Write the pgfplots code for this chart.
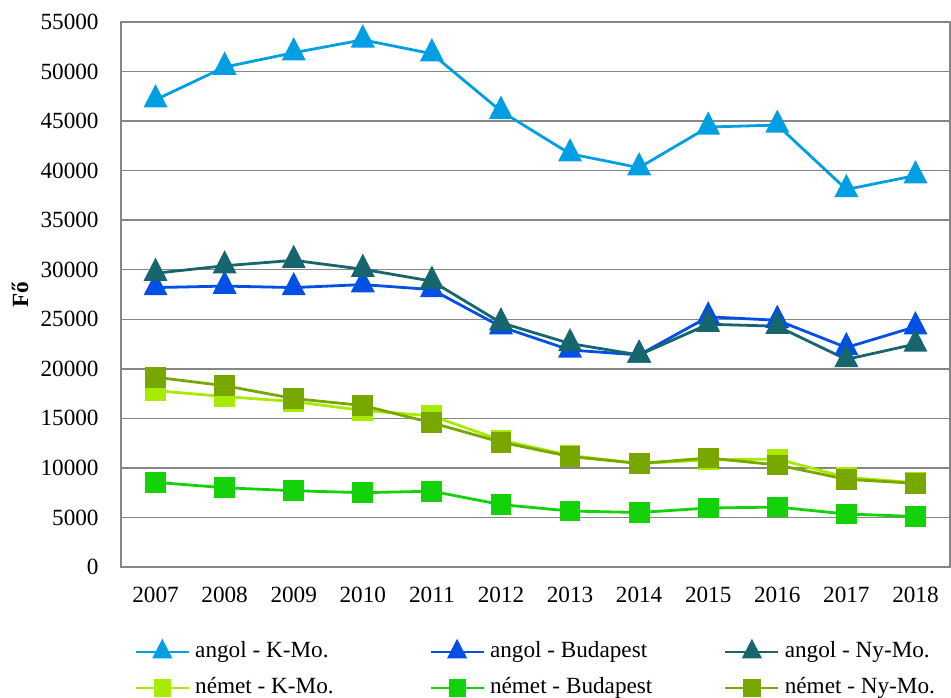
\documentclass[border=0pt]{standalone}
\usepackage{fontspec}
\setmainfont{Liberation Serif}
\usepackage{pgfplots}
\pgfplotsset{compat=1.18}
\usetikzlibrary{calc}
\definecolor{c1}{RGB}{0,158,227}
\definecolor{c2}{RGB}{0,80,230}
\definecolor{c3}{RGB}{23,102,110}
\definecolor{c4}{RGB}{166,235,0}
\definecolor{c5}{RGB}{20,210,10}
\definecolor{c6}{RGB}{120,168,0}
\definecolor{gridc}{RGB}{134,134,134}
\newcommand{\legbox}[1]{\makebox[117pt][l]{#1}}
\begin{document}
\begin{tikzpicture}
\begin{axis}[name=ax, scale only axis, width=414.5pt, height=272.5pt,
  xmin=-0.5, xmax=11.5, ymin=0, ymax=55000,
  xtick={0,1,2,3,4,5,6,7,8,9,10,11},
  xticklabels={2007,2008,2009,2010,2011,2012,2013,2014,2015,2016,2017,2018},
  ytick={0,5000,...,55000},
  ymajorgrids, major grid style={gridc, line width=0.7pt},
  axis line style={gridc, line width=0.8pt},
  major tick length=0pt,
  tick label style={font=\fontsize{11.6}{14}\selectfont},
  /pgf/number format/assume math mode=true,
  /pgf/number format/1000 sep={},
  scaled y ticks=false,
  yticklabel style={inner sep=0pt, xshift=-11pt},
  xticklabel style={inner sep=0pt, anchor=north, yshift=-10pt},
  ylabel={Fő},
  ylabel style={at={(axis description cs:0,0.5)}, anchor=center, yshift=50.5pt, font=\bfseries\fontsize{11.6}{14}\selectfont},
  legend columns=3,
  legend style={draw=none, fill=none, at={(axis description cs:0,0)}, anchor=north west,
    xshift=6.5pt, yshift=-36.5pt, inner sep=0pt, row sep=6.5pt, cells={anchor=west},
    nodes={inner sep=0pt, text height=8.5pt, text depth=3pt, font=\fontsize{11.6}{14}\selectfont},
    /tikz/every odd column/.append style={column sep=2.5pt}},
  legend image code/.code={\draw[mark repeat=2, mark phase=2, #1, every mark/.append style={scale=0.8}] plot coordinates {(0pt,0pt) (13.25pt,0pt) (26.5pt,0pt)};},
]
\addplot[c1, line width=1.4pt, mark=triangle*, mark size=5.6pt, mark options={draw=none, fill=c1, yscale=1.12}] coordinates {
(0,47150) (1,50450) (2,51900) (3,53200) (4,51800) (5,46000) (6,41700) (7,40300) (8,44400) (9,44600) (10,38100) (11,39500)};
\addlegendentry{\legbox{angol - K-Mo.}}
\addplot[c2, line width=1.4pt, mark=triangle*, mark size=5.6pt, mark options={draw=none, fill=c2, yscale=1.12}] coordinates {
(0,28200) (1,28350) (2,28200) (3,28500) (4,28000) (5,24250) (6,21900) (7,21400) (8,25250) (9,24900) (10,22150) (11,24250)};
\addlegendentry{\legbox{angol - Budapest}}
\addplot[c3, line width=1.4pt, mark=triangle*, mark size=5.6pt, mark options={draw=none, fill=c3, yscale=1.12}] coordinates {
(0,29650) (1,30400) (2,30950) (3,30050) (4,28850) (5,24650) (6,22550) (7,21400) (8,24500) (9,24300) (10,20950) (11,22500)};
\addlegendentry{\legbox{angol - Ny-Mo.}}
\addplot[c4, line width=1.4pt, mark=square*, mark size=4.5pt, mark options={draw=none, fill=c4}] coordinates {
(0,17800) (1,17200) (2,16700) (3,15800) (4,15250) (5,12800) (6,11250) (7,10450) (8,10800) (9,10900) (10,9050) (11,8500)};
\addlegendentry{\legbox{német - K-Mo.}}
\addplot[c5, line width=1.4pt, mark=square*, mark size=4.5pt, mark options={draw=none, fill=c5}] coordinates {
(0,8550) (1,8000) (2,7700) (3,7500) (4,7650) (5,6300) (6,5650) (7,5500) (8,5950) (9,6050) (10,5350) (11,5100)};
\addlegendentry{\legbox{német - Budapest}}
\addplot[c6, line width=1.4pt, mark=square*, mark size=4.5pt, mark options={draw=none, fill=c6}] coordinates {
(0,19150) (1,18300) (2,17000) (3,16300) (4,14550) (5,12600) (6,11150) (7,10450) (8,11000) (9,10300) (10,8850) (11,8450)};
\addlegendentry{\legbox{német - Ny-Mo.}}
\end{axis}
\pgfresetboundingbox
\path[use as bounding box] ($(ax.south west)+(-60.5pt,-65pt)$) rectangle ($(ax.north east)+(0.5pt,11pt)$);
\end{tikzpicture}
\end{document}
